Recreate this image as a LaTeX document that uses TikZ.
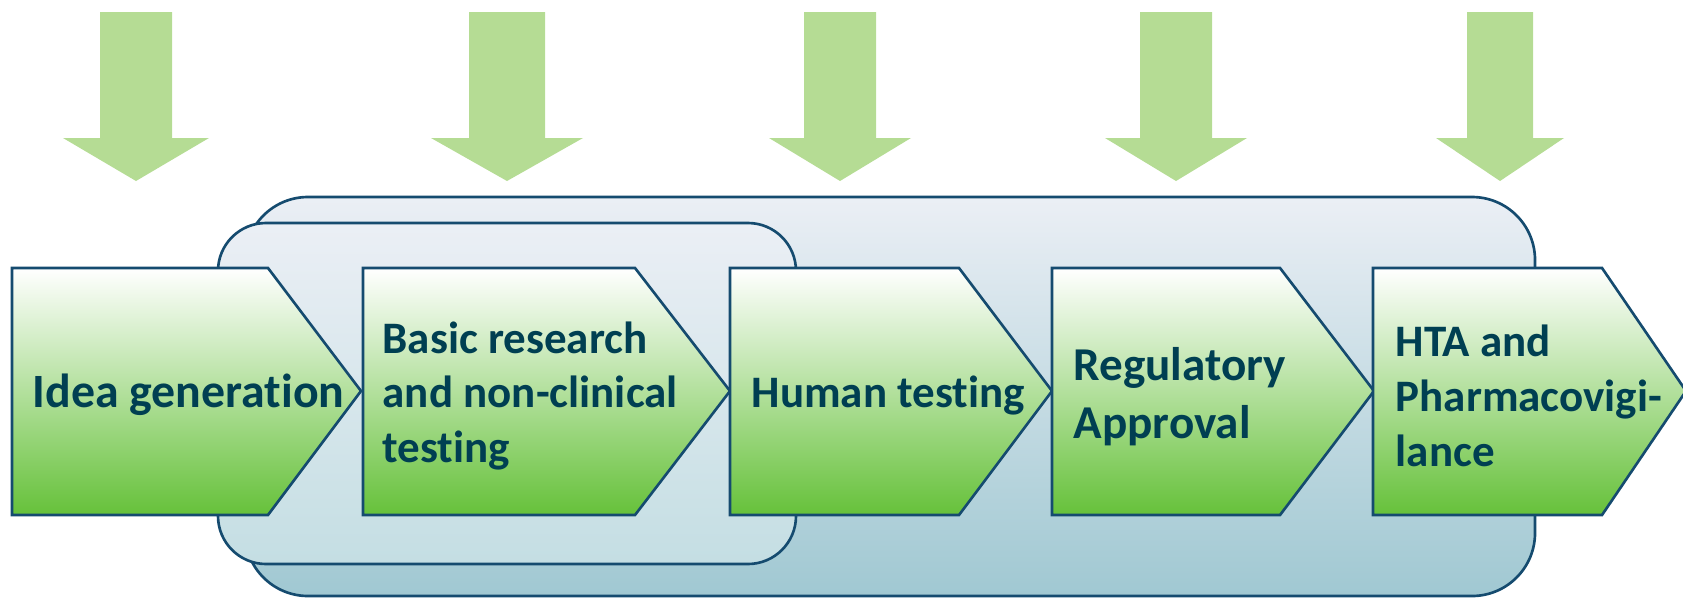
\documentclass[tikz,border=0pt]{standalone}
\usepackage{fontspec}
\setmainfont[Ligatures=NoCommon]{Carlito}
\usetikzlibrary{backgrounds}
\definecolor{arrowgreen}{HTML}{B5DC94}
\definecolor{stagegreen}{HTML}{66C13A}
\definecolor{framelight}{HTML}{EBEFF5}
\definecolor{framedark}{HTML}{A0C8D2}
\definecolor{innerdark}{HTML}{C4DEE3}
\definecolor{edgeblue}{HTML}{154B6F}
\definecolor{textteal}{HTML}{003F52}
\tikzset{
  stage/.style={draw=edgeblue,line width=0.75pt,top color=white,bottom color=stagegreen},
  stagetext/.style={anchor=west,inner sep=0pt,align=left,text=textteal,
    font=\bfseries\fontsize{12.8}{15.6}\selectfont},
}

\begin{document}
\begin{tikzpicture}[x=0.01cm,y=-0.01cm,line join=miter]
        \useasboundingbox (0,0) rectangle (1683,597);
        \clip (0,0) rectangle (1683,597);

        % down arrows
        \foreach \c/\s/\h in {136/36/73, 507/38/76, 840/36/71, 1176/36/71, 1500/33/64}
          \fill [arrowgreen] (\c-\s,12) -- (\c+\s,12) -- (\c+\s,138) -- (\c+\h,138)
            -- (\c,181) -- (\c-\h,138) -- (\c-\s,138) -- cycle;

        % frames
        \draw [edgeblue,line width=0.75pt,top color=framelight,bottom color=framedark,rounded corners=0.63cm]
          (245,197) rectangle (1535,596);
        \draw [edgeblue,line width=0.75pt,top color=framelight,bottom color=innerdark,rounded corners=0.48cm]
          (218,223) rectangle (796,564);

        % stages
        \foreach \l/\c/\t in {12/268/361, 363/635/730, 730/959/1052, 1052/1280/1374, 1373/1602/1686}
          \draw [stage] (\l,268) -- (\c,268) -- (\t,391) -- (\c,515) -- (\l,515) -- cycle;

        \node [stagetext,font=\bfseries\fontsize{13.6}{15.6}\selectfont] (idea) at (32,395) {Idea generation};
        \node [stagetext] (basic) at (382,396) {Basic research\\and non-clinical\\testing};
        \node [stagetext] (human) at (751,396) {Human testing};
        \node [stagetext,font=\bfseries\fontsize{13.4}{16.4}\selectfont] (regulatory) at (1073,397) {Regulatory\\Approval};
        \node [stagetext] (hta) at (1395,396) {HTA and\\Pharmacovigi-\\lance};
\end{tikzpicture}
\end{document}
